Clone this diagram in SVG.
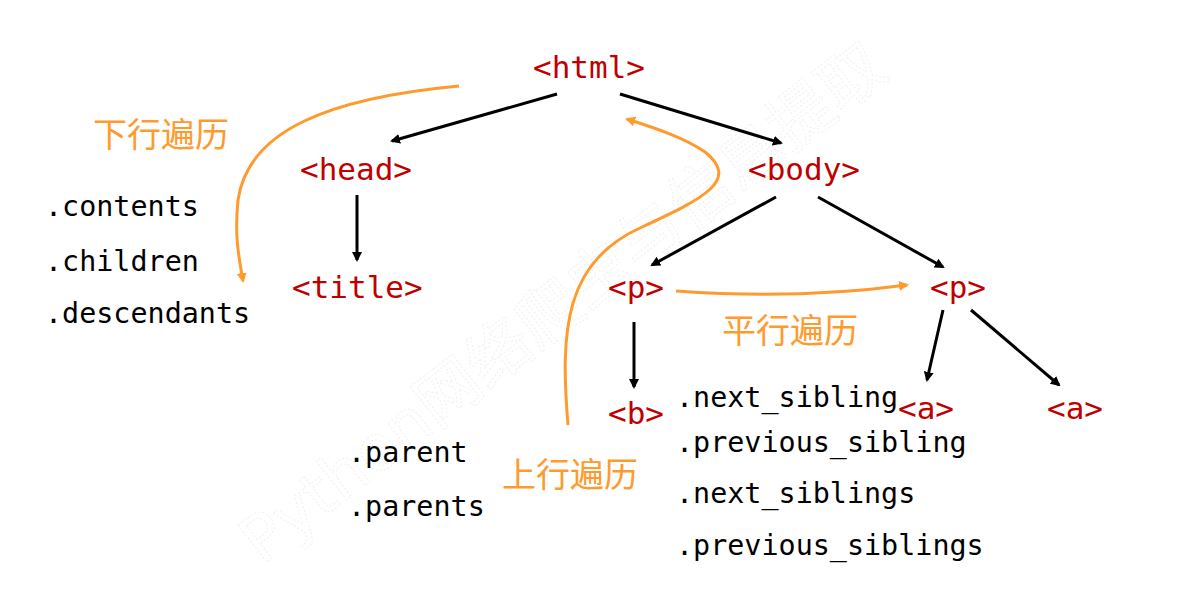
<svg xmlns="http://www.w3.org/2000/svg" width="1200" height="594" viewBox="0 0 1200 594">
<style>
.tag{font-family:"DejaVu Sans Mono","Liberation Mono",monospace;font-size:31px;fill:#c00000}
.attr{font-family:"DejaVu Sans Mono","Liberation Mono",monospace;font-size:28.4px;fill:#000}
.cn{font-family:"Noto Sans CJK SC","Noto Sans",sans-serif;font-size:34px;fill:#ff9a2e}
.edge{stroke:#000;stroke-width:3;fill:none;marker-end:url(#ab)}
.trav{stroke:#ff9a2e;stroke-width:3;fill:none;marker-end:url(#ao)}
.wm{font-family:"DejaVu Sans","Noto Sans CJK SC",sans-serif;font-size:64px;fill:none;stroke:#f0f0f0;stroke-width:1;stroke-dasharray:2 2}
</style>
<defs>
<marker id="ab" markerWidth="10" markerHeight="10" refX="8" refY="5" orient="auto" markerUnits="userSpaceOnUse" viewBox="0 0 10 10"><path d="M0,0 L10,5 L0,10 Z" fill="#000"/></marker>
<marker id="ao" markerWidth="10" markerHeight="10" refX="8" refY="5" orient="auto" markerUnits="userSpaceOnUse" viewBox="0 0 10 10"><path d="M0,0 L10,5 L0,10 Z" fill="#ff9a2e"/></marker>
</defs>
<rect width="1200" height="594" fill="#fff"/>
<text class="wm" transform="translate(262,566) rotate(-38)">Python网络爬虫与信息提取</text>
<g id="connectors">
<path class="edge" d="M557,94 L392,141"/>
<path class="edge" d="M620,94 L781,143"/>
<path class="edge" d="M357,195 L357,260"/>
<path class="edge" d="M776,197 L652,265"/>
<path class="edge" d="M818,197 L943,267"/>
<path class="edge" d="M634,322 L634,387"/>
<path class="edge" d="M943,310 L927,380"/>
<path class="edge" d="M971,310 L1059,385"/>
<path class="trav" d="M459,86 C330,98 248,130 238,200 C234,240 240,262 243,281"/>
<path class="trav" d="M568,425 C560,330 565,262 640,228 C705,198 740,180 705,152 C685,138 655,128 627,119"/>
<path class="trav" d="M676,291 C760,297 840,294 907,285"/>
</g>
<g id="html"><text class="tag" x="533" y="78">&lt;html&gt;</text></g>
<g id="head"><text class="tag" x="300" y="180">&lt;head&gt;</text></g>
<g id="body"><text class="tag" x="748" y="180">&lt;body&gt;</text></g>
<g id="title"><text class="tag" x="292" y="298">&lt;title&gt;</text></g>
<g id="p1"><text class="tag" x="608" y="298">&lt;p&gt;</text></g>
<g id="p2"><text class="tag" x="930" y="298">&lt;p&gt;</text></g>
<g id="b"><text class="tag" x="608" y="424">&lt;b&gt;</text></g>
<g id="a1"><text class="tag" x="898" y="419">&lt;a&gt;</text></g>
<g id="a2"><text class="tag" x="1047" y="419">&lt;a&gt;</text></g>
<g id="down">
<text class="cn" x="93" y="147">下行遍历</text>
<text class="attr" x="45" y="216">.contents</text>
<text class="attr" x="45" y="271">.children</text>
<text class="attr" x="45" y="323">.descendants</text>
</g>
<g id="up">
<text class="cn" x="502" y="487">上行遍历</text>
<text class="attr" x="348" y="462">.parent</text>
<text class="attr" x="348" y="516">.parents</text>
</g>
<g id="parallel">
<text class="cn" x="722" y="343">平行遍历</text>
<text class="attr" x="676" y="407">.next_sibling</text>
<text class="attr" x="676" y="452">.previous_sibling</text>
<text class="attr" x="676" y="503">.next_siblings</text>
<text class="attr" x="676" y="555">.previous_siblings</text>
</g>
</svg>
